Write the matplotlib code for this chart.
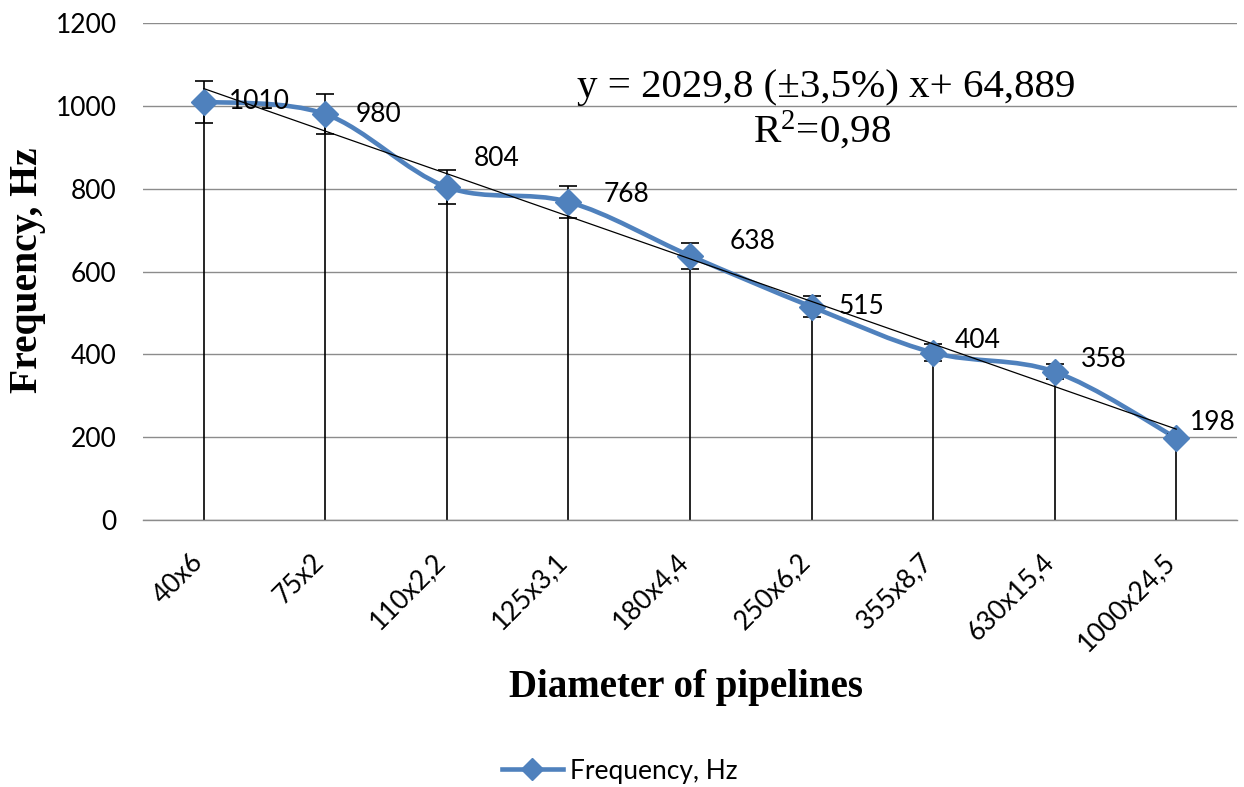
import numpy as np
import matplotlib
matplotlib.use("Agg")
import matplotlib.pyplot as plt
from matplotlib.path import Path
from matplotlib.patches import PathPatch
from matplotlib.lines import Line2D
from matplotlib.transforms import ScaledTranslation

categories = ["40x6", "75x2", "110x2,2", "125x3,1", "180x4,4",
              "250x6,2", "355x8,7", "630x15,4", "1000x24,5"]
frequency = [1010, 980, 804, 768, 638, 515, 404, 358, 198]
error_fraction = 0.05
y_ticks = [0, 200, 400, 600, 800, 1000, 1200]
equation_text = "y = 2029,8 (±3,5%) x+ 64,889"
r2_text = r"R$^{2}$=0,98"
series_name = "Frequency, Hz"
x_title = "Diameter of pipelines"
y_title = "Frequency, Hz"

# label offsets in pixels (dx, dy up)
label_offsets = [(25, 0), (30, 0), (27, 29), (35, 7), (40, 14),
                 (27, 0), (22, 12), (26, 12), (14, 15)]

BLUE = "#4F81BD"
SANS = "Lato"
SERIF = "Liberation Serif"

plt.rcParams["mathtext.fontset"] = "custom"
plt.rcParams["mathtext.rm"] = SERIF
plt.rcParams["mathtext.it"] = SERIF + ":italic"
plt.rcParams["mathtext.bf"] = SERIF + ":bold"

fig = plt.figure(figsize=(12.44, 7.87), dpi=100)
ax = fig.add_axes([143/1244, 1-520/787, (1237-143)/1244, (520-23)/787])

x = np.arange(len(categories)) + 0.5
y = np.array(frequency, dtype=float)

ax.set_xlim(0, len(categories))
ax.set_ylim(0, 1200)
ax.set_yticks(y_ticks)
ax.yaxis.grid(True, color="#8c8c8c", lw=1.0)
ax.set_axisbelow(True)
for s in ["left", "right", "top"]:
    ax.spines[s].set_visible(False)
ax.spines["bottom"].set_color("#8c8c8c")
ax.spines["bottom"].set_linewidth(1.0)
ax.tick_params(axis="both", length=0)
ax.tick_params(axis="y", pad=19)
ax.set_yticklabels([str(t) for t in y_ticks], fontfamily=SANS, fontsize=19)

ax.set_xticks(x)
ax.set_xticklabels(categories, rotation=45, ha="right", va="center",
                   rotation_mode="anchor", fontfamily=SANS, fontsize=19)
ax.tick_params(axis="x", pad=27)
for lab in ax.get_xticklabels():
    lab.set_transform(lab.get_transform() + ScaledTranslation(-5/100, 0, fig.dpi_scale_trans))

# drop lines
ax.vlines(x, 0, y, color="black", lw=1.2, zorder=2)

# smoothed series line (Catmull-Rom style Bezier)
pts = np.column_stack([x, y])
verts = [tuple(pts[0])]
codes = [Path.MOVETO]
n = len(pts)
for i in range(n - 1):
    p0 = pts[i - 1] if i > 0 else pts[i]
    p1 = pts[i]
    p2 = pts[i + 1]
    p3 = pts[i + 2] if i + 2 < n else pts[i + 1]
    c1 = p1 + (p2 - p0) / 6.0
    c2 = p2 - (p3 - p1) / 6.0
    verts += [tuple(c1), tuple(c2), tuple(p2)]
    codes += [Path.CURVE4] * 3
ax.add_patch(PathPatch(Path(verts, codes), facecolor="none", edgecolor=BLUE,
                       lw=3.3, zorder=3, capstyle="round", joinstyle="round"))

# error bars (behind markers)
ax.errorbar(x, y, yerr=error_fraction * y, fmt="none", ecolor="black",
            elinewidth=1.2, capsize=6.5, capthick=1.2, zorder=3.2)

ax.plot(x, y, linestyle="none", marker="D", markersize=13, color=BLUE, zorder=3.5)

# linear trend line
coef = np.polyfit(np.arange(1, n + 1), y, 1)
trend = np.polyval(coef, np.arange(1, n + 1))
ax.plot([x[0], x[-1]], [trend[0], trend[-1]], color="black", lw=0.9, zorder=5)

# data labels
for xi, yi, (dx, dy) in zip(x, y, label_offsets):
    ax.annotate(str(int(yi)), (xi, yi), xytext=(dx * 0.72, dy * 0.72),
                textcoords="offset points", ha="left", va="center",
                fontfamily=SANS, fontsize=19, color="black", zorder=6)

# equation
fig.text(826/1244, 1-88/787, equation_text, ha="center", va="center",
         fontfamily=SERIF, fontsize=29.5)
fig.text(822/1244, 1-130/787, r2_text, ha="center", va="center",
         fontfamily=SERIF, fontsize=29.5)

# axis titles
fig.text(686/1244, 1-688/787, x_title, ha="center", va="center",
         fontfamily=SERIF, fontweight="bold", fontsize=28)
fig.text(27/1244, 1-270/787, y_title, ha="center", va="center", rotation=90,
         fontfamily=SERIF, fontweight="bold", fontsize=28.5)

# legend
handle = Line2D([], [], color=BLUE, lw=3.3, marker="D", markersize=11)
leg = fig.legend([handle], [series_name], loc="center", bbox_to_anchor=(620/1244, 1-771/787),
                 frameon=False, prop={"family": SANS, "size": 19},
                 handlelength=2.3, handletextpad=0.3)

fig.savefig("out.png", dpi=100)
